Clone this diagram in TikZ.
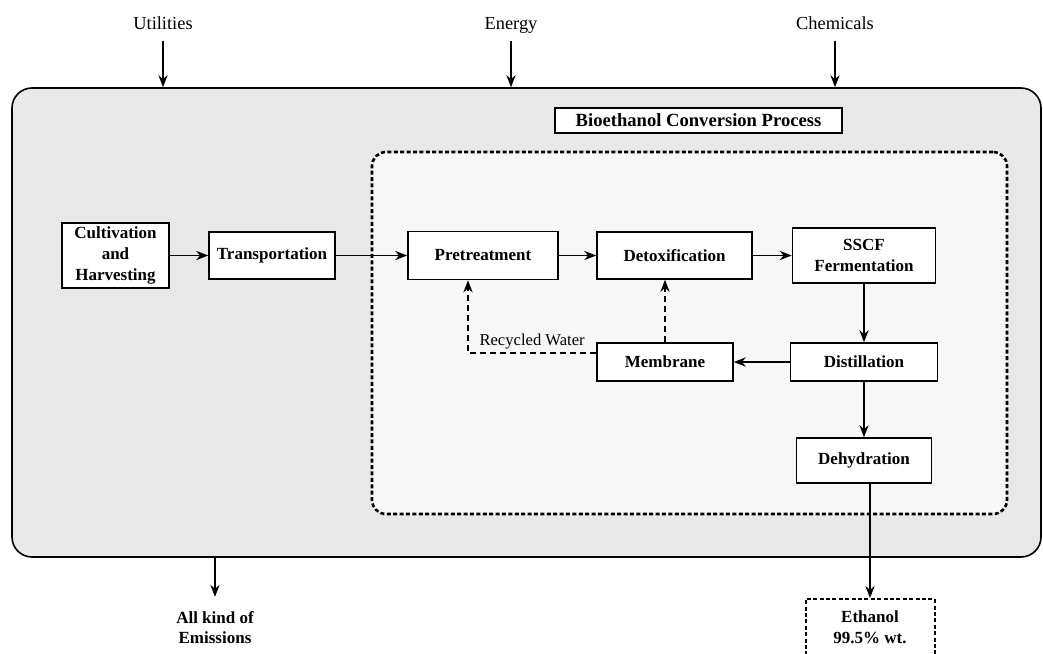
\documentclass[tikz,border=0pt]{standalone}
\usepackage{fontspec}
\setmainfont{Liberation Serif}
\usetikzlibrary{arrows.meta}

\begin{document}
\begin{tikzpicture}[x=0.5pt, y=-0.5pt, >={Stealth[length=6pt,width=4.6pt]},
	stage/.style={draw, line width=0.8pt, fill=white, align=center, inner sep=0pt,
		font=\fontsize{8.5}{10.5}\selectfont\bfseries},
	flow/.style={line width=0.7pt},
	recycle/.style={line width=0.7pt, dash pattern=on 3pt off 2pt},
	inputtxt/.style={font=\fontsize{9.2}{11}\selectfont, text height=6.5pt, text depth=2pt}]
	\clip (0,0) rectangle (1043,653);
	\fill[white] (0,0) rectangle (1043,653);

	% system boundary and conversion process
	\node[draw, line width=0.8pt, rounded corners=10pt, fill=gray!18, minimum width=514.5pt, minimum height=234.5pt] (System) at (526.5,322.5) {};
	\node[draw, line width=1.3pt, dash pattern=on 2pt off 1.2pt, rounded corners=7pt, fill=gray!6, minimum width=317.5pt, minimum height=181pt] (Conversion) at (689.5,333) {};
	\node[stage, font=\fontsize{9.3}{11}\selectfont\bfseries, minimum width=143.5pt, minimum height=12.5pt] (Title) at (698.5,120.5) {Bioethanol Conversion Process};

	\node[inputtxt] (Utilities) at (163,25) {Utilities};
	\node[inputtxt] (Energy) at (511,25) {Energy};
	\node[inputtxt] (Chemicals) at (835,25) {Chemicals};

	\node[stage, minimum width=53.5pt, minimum height=32.5pt] (Cultivation) at (115.5,255.5) {Cultivation\\and\\Harvesting};
	\node[stage, minimum width=63pt, minimum height=23.5pt] (Transportation) at (272,255.5) {Transportation};
	\node[stage, minimum width=75pt, minimum height=24pt] (Pretreatment) at (483,255.5) {Pretreatment};
	\node[stage, minimum width=77.5pt, minimum height=23.5pt] (Detoxification) at (674.5,255.5) {Detoxification};
	\node[stage, minimum width=71.5pt, minimum height=27.5pt] (SSCF) at (864,255.5) {SSCF\\Fermentation};
	\node[stage, minimum width=73.5pt, minimum height=19pt] (Distillation) at (864,362) {Distillation};
	\node[stage, minimum width=68pt, minimum height=19pt] (Membrane) at (665,362) {Membrane};
	\node[stage, minimum width=67.5pt, minimum height=22.5pt] (Dehydration) at (864,460.5) {Dehydration};

	\node[stage, line width=1pt, dash pattern=on 2pt off 1.2pt, anchor=north, inner xsep=3.5pt, inner ysep=6pt, minimum width=64.5pt, text depth=18pt] (Ethanol) at (870,598) {Ethanol\\99.5\% wt.};
	\node[font=\fontsize{8.5}{10}\selectfont\bfseries, align=center] (Emissions) at (215,628) {All kind of\\Emissions};

	\draw[->, flow] (Utilities) -- (Utilities |- System.north);
	\draw[->, flow] (Energy) -- (Energy |- System.north);
	\draw[->, flow] (Chemicals) -- (Chemicals |- System.north);
	\draw[->, flow] (System.south -| Emissions) -- ([yshift=4pt]Emissions.north);

	\path [->, flow] (Cultivation) edge (Transportation);
	\path [->, flow] (Transportation) edge (Pretreatment);
	\path [->, flow] (Pretreatment) edge (Detoxification);
	\path [->, flow] (Detoxification) edge (SSCF);
	\path [->, flow] (SSCF) edge (Distillation);
	\path [->, flow] (Distillation) edge (Membrane);
	\path [->, flow] (Distillation) edge (Dehydration);
	\draw[->, flow] (Dehydration.south -| Ethanol.north) -- (Ethanol.north);

	% water recycle
	\draw[->, recycle] ([yshift=4.5pt]Membrane.west) -| node[pos=0.25, above, inner sep=1.5pt, font=\fontsize{8.3}{10}\selectfont] {Recycled Water} ([xshift=-7.5pt]Pretreatment.south);
	\draw[->, recycle] (Membrane.north) -- (Membrane.north |- Detoxification.south);
\end{tikzpicture}
\end{document}
